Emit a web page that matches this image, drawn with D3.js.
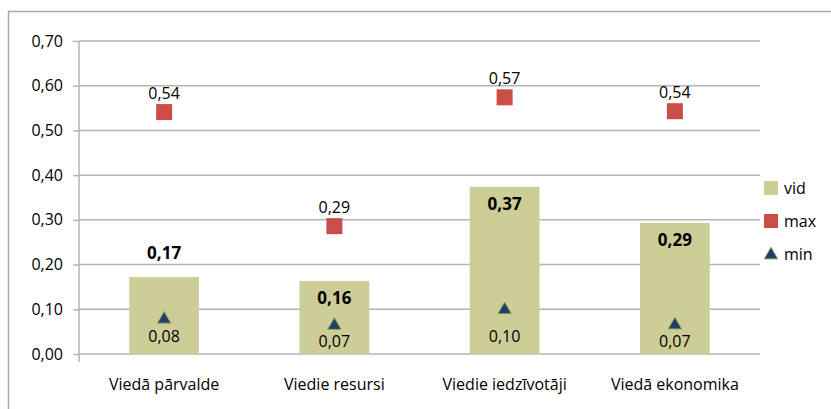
<!DOCTYPE html>
<html>
<head>
<meta charset="utf-8">
<script src="https://cdn.jsdelivr.net/npm/d3@7"></script>
<style>
  body { margin: 0; background: #fff; }
  svg text { font-family: "Open Sans", sans-serif; fill: #000; }
</style>
</head>
<body>
<svg id="chart"></svg>
<script>
// Chart data
const categories = ['Viedā pārvalde', 'Viedie resursi', 'Viedie iedzīvotāji', 'Viedā ekonomika'];
const vidValues = [0.172, 0.163, 0.374, 0.293];
const maxValues = [0.541, 0.286, 0.574, 0.543];
const minValues = [0.080, 0.066, 0.101, 0.067];
const yTicks = [0, 0.1, 0.2, 0.3, 0.4, 0.5, 0.6, 0.7];
const vidLabelPlacement = ['above', 'inside', 'inside', 'inside'];
const seriesNames = ['vid', 'max', 'min'];

const colors = { vid: '#CDCD97', max: '#CB4D47', min: '#1F3F6B', minStroke: '#9BA958', grid: '#B4B4B4' };

const width = 831, height = 409;
const margin = { top: 41, right: 71, bottom: 55, left: 79 };

const svg = d3.select('#chart')
  .attr('width', width)
  .attr('height', height);

// outer frame
svg.append('rect')
  .attr('x', 8.5).attr('y', 11.5)
  .attr('width', width + 10).attr('height', height + 10)
  .attr('fill', 'none')
  .attr('stroke', '#A8A8A8')
  .attr('stroke-width', 1.5);

const x = d3.scaleBand()
  .domain(categories)
  .range([margin.left, width - margin.right])
  .paddingInner(0.59)
  .paddingOuter(0.295);

const y = d3.scaleLinear()
  .domain([0, 0.7])
  .range([height - margin.bottom, margin.top]);

const fmt = v => d3.format('.2f')(v).replace('.', ',');

// y axis with gridlines
const yAxis = svg.append('g')
  .attr('transform', `translate(${margin.left},0)`)
  .call(d3.axisLeft(y).tickValues(yTicks).tickFormat(fmt).tickSize(6).tickPadding(10));
yAxis.select('.domain').remove();
yAxis.selectAll('.tick line').attr('stroke', colors.grid).attr('stroke-width', 1.5);
yAxis.selectAll('.tick text').style('font-size', '16px').style('font-family', '"Open Sans", sans-serif');

svg.append('g')
  .selectAll('line')
  .data(yTicks)
  .join('line')
  .attr('x1', margin.left)
  .attr('x2', width - margin.right)
  .attr('y1', d => y(d))
  .attr('y2', d => y(d))
  .attr('stroke', colors.grid)
  .attr('stroke-width', 1.5);

// vertical axis line
svg.append('line')
  .attr('x1', margin.left).attr('x2', margin.left)
  .attr('y1', y(0.7)).attr('y2', y(0) + 8)
  .attr('stroke', colors.grid)
  .attr('stroke-width', 1.5);

// bars (vid)
svg.append('g')
  .selectAll('rect')
  .data(vidValues)
  .join('rect')
  .attr('x', (d, i) => x(categories[i]))
  .attr('width', x.bandwidth())
  .attr('y', d => y(d))
  .attr('height', d => y(0) - y(d))
  .attr('fill', colors.vid);

// vid labels
svg.append('g')
  .selectAll('text')
  .data(vidValues)
  .join('text')
  .attr('x', (d, i) => x(categories[i]) + x.bandwidth() / 2)
  .attr('y', (d, i) => vidLabelPlacement[i] === 'above' ? y(d) - 18 : y(d) + 23)
  .attr('text-anchor', 'middle')
  .style('font-size', '17px')
  .style('font-weight', 'bold')
  .text(d => fmt(d));

// max markers
const cx = (i) => x(categories[i]) + x.bandwidth() / 2;
svg.append('g')
  .selectAll('rect')
  .data(maxValues)
  .join('rect')
  .attr('x', (d, i) => cx(i) - 8)
  .attr('y', d => y(d) - 8)
  .attr('width', 16)
  .attr('height', 16)
  .attr('fill', colors.max);

svg.append('g')
  .selectAll('text')
  .data(maxValues)
  .join('text')
  .attr('x', (d, i) => cx(i))
  .attr('y', d => y(d) - 13)
  .attr('text-anchor', 'middle')
  .style('font-size', '16px')
  .text(d => fmt(d));

// min markers
const tri = d3.symbol().type(d3.symbolTriangle).size(80);
svg.append('g')
  .selectAll('path')
  .data(minValues)
  .join('path')
  .attr('transform', (d, i) => `translate(${cx(i)},${y(d) + 1})`)
  .attr('d', tri)
  .attr('fill', colors.min)
  .attr('stroke', colors.minStroke)
  .attr('stroke-width', 1);

svg.append('g')
  .selectAll('text')
  .data(minValues)
  .join('text')
  .attr('x', (d, i) => cx(i))
  .attr('y', d => Math.max(y(d) + 23, 342))
  .attr('text-anchor', 'middle')
  .style('font-size', '16px')
  .text(d => fmt(d));

// category labels
svg.append('g')
  .selectAll('text')
  .data(categories)
  .join('text')
  .attr('x', d => x(d) + x.bandwidth() / 2)
  .attr('y', 390)
  .attr('text-anchor', 'middle')
  .style('font-size', '16px')
  .text(d => d);

// legend
const legend = svg.append('g').attr('transform', 'translate(764,188)');
const item = legend.selectAll('g')
  .data(seriesNames)
  .join('g')
  .attr('transform', (d, i) => `translate(0,${i * 33})`);

item.each(function (d) {
  const g = d3.select(this);
  if (d === 'vid') {
    g.append('rect').attr('x', 0).attr('y', -7).attr('width', 14).attr('height', 14).attr('fill', colors.vid);
  } else if (d === 'max') {
    g.append('rect').attr('x', 0).attr('y', -7).attr('width', 14).attr('height', 14).attr('fill', colors.max);
  } else {
    g.append('path').attr('transform', 'translate(7,1)').attr('d', tri)
      .attr('fill', colors.min).attr('stroke', colors.minStroke);
  }
});
item.append('text')
  .attr('x', 20)
  .attr('y', 6)
  .style('font-size', '16px')
  .text(d => d);
</script>
</body>
</html>
